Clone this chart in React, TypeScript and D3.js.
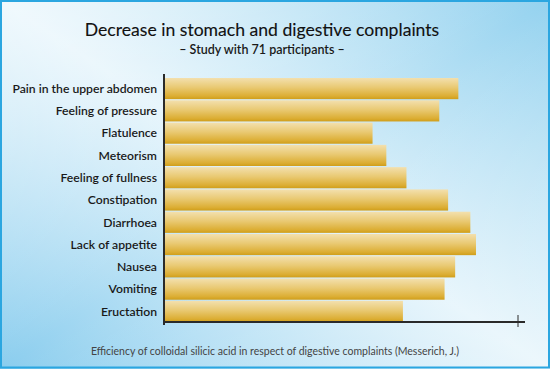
import * as d3 from 'd3'

const categories = [
  'Pain in the upper abdomen',
  'Feeling of pressure',
  'Flatulence',
  'Meteorism',
  'Feeling of fullness',
  'Constipation',
  'Diarrhoea',
  'Lack of appetite',
  'Nausea',
  'Vomiting',
  'Eructation',
]
const decrease = [83.1, 77.7, 58.8, 62.7, 68.4, 80.2, 86.5, 88.1, 82.2, 79.2, 67.4]
const xTicks = [100]

const title = 'Decrease in stomach and digestive complaints'
const subtitle = '– Study with 71 participants –'
const footnote = 'Efficiency of colloidal silicic acid in respect of digestive complaints (Messerich, J.)'

const W = 550
const H = 369
const font = 'Lato, "Open Sans", sans-serif'

export default function App() {
  const x = d3.scaleLinear().domain([0, 100]).range([165, 518])
  const y = d3.scaleBand<string>().domain(categories).range([78, 322]).paddingInner(0.05)

  return (
    <div style={{ position: 'absolute', left: 0, top: 0 }}>
      <svg width={W} height={H} style={{ display: 'block' }}>
        <defs>
          <linearGradient id="bg" x1="1" y1="0" x2="0" y2="1">
            <stop offset="0" stopColor="#94d2ef" />
            <stop offset="0.5" stopColor="#e2f3fb" />
            <stop offset="1" stopColor="#8acdee" />
          </linearGradient>
          <linearGradient id="bg2" x1="0" y1="0" x2="1" y2="1">
            <stop offset="0" stopColor="#ffffff" stopOpacity="0.5" />
            <stop offset="0.5" stopColor="#ffffff" stopOpacity="0" />
            <stop offset="1" stopColor="#ffffff" stopOpacity="0.35" />
          </linearGradient>
          <linearGradient id="bar" x1="0" y1="0" x2="0" y2="1">
            <stop offset="0" stopColor="#f3e0ae" />
            <stop offset="0.45" stopColor="#e9c972" />
            <stop offset="0.85" stopColor="#dcae34" />
            <stop offset="1" stopColor="#d09e1a" />
          </linearGradient>
        </defs>
        <rect x={0} y={0} width={W} height={H} fill="url(#bg)" />
        <rect x={0} y={0} width={W} height={H} fill="url(#bg2)" />
        <rect x={1} y={1} width={W - 2} height={H - 2.5} fill="none" stroke="#2ba6e0" strokeWidth={2} />

        <text x={262} y={36} textAnchor="middle" fontFamily={font} fontSize={17.6} fill="#111" stroke="#111" strokeWidth={0.12}>
          {title}
        </text>
        <text x={262} y={54} textAnchor="middle" fontFamily={font} fontSize={12.5} fontWeight={600} fill="#1a1a1a">
          {subtitle}
        </text>

        {categories.map((c, i) => (
          <g key={c}>
            <rect
              x={x(0)}
              y={y(c)!}
              width={x(decrease[i]) - x(0)}
              height={y.bandwidth()}
              fill="url(#bar)"
            />
            <text
              x={157}
              y={y(c)! + y.bandwidth() / 2}
              dy="0.35em"
              textAnchor="end"
              fontFamily={font}
              fontSize={12.2}
              fontWeight={600}
              fill="#1a1a1a"
            >
              {c}
            </text>
          </g>
        ))}

        {/* axes */}
        <line x1={164} x2={164} y1={74} y2={325} stroke="#2a2a2a" strokeWidth={2} />
        <line x1={163} x2={525} y1={322} y2={322} stroke="#2a2a2a" strokeWidth={2} />
        {xTicks.map(t => (
          <line key={t} x1={x(t)} x2={x(t)} y1={315} y2={327} stroke="#2a2a2a" strokeWidth={1} />
        ))}

        <text x={275} y={355} textAnchor="middle" fontFamily={font} fontSize={10.5} fill="#444">
          {footnote}
        </text>
      </svg>
    </div>
  )
}
